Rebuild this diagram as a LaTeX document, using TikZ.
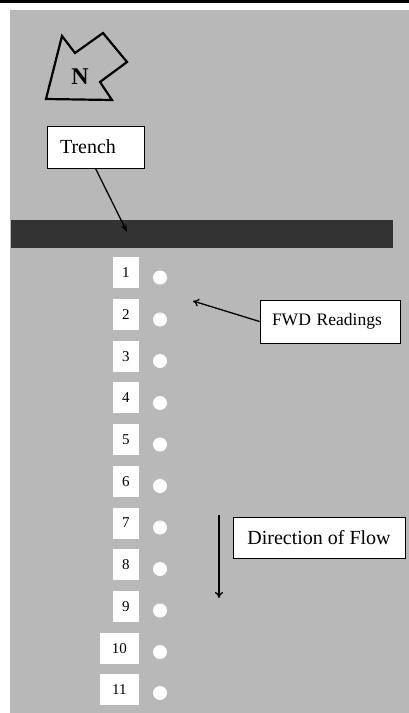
\documentclass[tikz,border=0pt]{standalone}
\usepackage{fontspec}
\setmainfont{Liberation Serif}
\usetikzlibrary{arrows.meta}
\definecolor{field}{gray}{0.72}
\definecolor{trenchfill}{gray}{0.2}

\begin{document}
\begin{tikzpicture}[x=1pt,y=-1pt,every node/.style={inner sep=0pt},
	labelbox/.style={draw=black,fill=white,line width=0.8pt,minimum height=42pt},
	numbox/.style={fill=white,minimum width=26pt,minimum height=31pt,anchor=east,font=\fontsize{15}{15}\selectfont},
	point/.style={circle,fill=white,minimum size=14pt},
	pointer/.style={line width=1.3pt,-{To[length=6pt,width=8pt]}}]
			\useasboundingbox (0,0) rectangle (409,713);

			%background and trench
			\fill[black] (0,0) rectangle (409,2.5);
			\fill[field] (10,10) rectangle (409,713);
			\fill[trenchfill] (11,220) rectangle (393,248);

			%north arrow
			\draw[line width=2.2pt,line join=miter] (62,36) -- (75,53) -- (103,33) -- (127,62) -- (100,82) -- (112,100) -- (46,99) -- cycle;
			\node[font=\bfseries\fontsize{24}{24}\selectfont] (north) at (80,77) {N};

			%labels
			\node[labelbox,minimum width=97pt,text width=71pt,inner xsep=13pt,align=left,font=\fontsize{20}{20}\selectfont] (trench) at (95.5,147) {Trench};
			\node[labelbox,minimum height=43pt,text width=116pt,inner xsep=12pt,align=left,font=\fontsize{17.5}{17.5}\selectfont] (fwd) at (330,321.5) {FWD Readings\\[4pt]};
			\node[labelbox,minimum width=172pt,minimum height=41pt,font=\fontsize{20}{20}\selectfont] (flow) at (319,537.5) {Direction of Flow\\[2pt]};

			%station numbers
			\node[numbox] (s1) at (139,272.8) {1};
			\node[numbox] (s2) at (139,314.5) {2};
			\node[numbox] (s3) at (139,356.2) {3};
			\node[numbox] (s4) at (139,397.9) {4};
			\node[numbox] (s5) at (139,439.6) {5};
			\node[numbox] (s6) at (139,481.3) {6};
			\node[numbox] (s7) at (139,523.0) {7};
			\node[numbox] (s8) at (139,564.7) {8};
			\node[numbox] (s9) at (139,606.4) {9};
			\node[numbox,minimum width=39pt] (s10) at (139,648.1) {10};
			\node[numbox,minimum width=39pt] (s11) at (139,689.8) {11};

			%test points
			\node[point] (p1) at (160,277.5) {};
			\node[point] (p2) at (160,319.5) {};
			\node[point] (p3) at (160,361) {};
			\node[point] (p4) at (160,403) {};
			\node[point] (p5) at (160,444.5) {};
			\node[point] (p6) at (160,486) {};
			\node[point] (p7) at (160,527.5) {};
			\node[point] (p8) at (160,569) {};
			\node[point] (p9) at (160,610.5) {};
			\node[point] (p10) at (160,652) {};
			\node[point] (p11) at (160,693) {};

			%arrows
			\coordinate (trenchtip) at (127,232);
			\coordinate (fwdtip) at (193,301);
			\coordinate (flowtop) at (219,515);
			\coordinate (flowend) at (219,598);
			\draw[line width=1.3pt,-{Stealth[length=8pt,width=6pt]}] (trench.south) -- (trenchtip);
			\draw[pointer] (fwd.west) -- (fwdtip);
			\draw[pointer] (flowtop) -- (flowend);
		\end{tikzpicture}
\end{document}
